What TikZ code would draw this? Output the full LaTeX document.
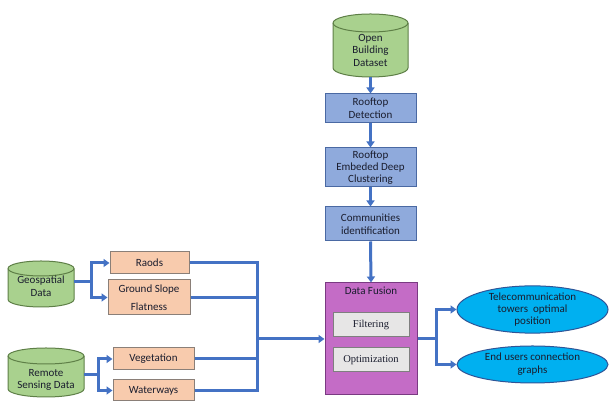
\documentclass[tikz,border=0pt]{standalone}
\usepackage{fontspec}
\setmainfont{Carlito}
\newfontfamily\serifb{Liberation Serif}
\usetikzlibrary{arrows.meta,calc,shapes.geometric}
\definecolor{cylf}{HTML}{A9D18E}
\definecolor{cyld}{HTML}{5E7F47}
\definecolor{bluef}{HTML}{8FAADC}
\definecolor{blued}{HTML}{4A69A3}
\definecolor{peachf}{HTML}{F8CBAD}
\definecolor{peachd}{HTML}{8A7F78}
\definecolor{fusionf}{HTML}{C46CC6}
\definecolor{fusiond}{HTML}{7A3A82}
\definecolor{grayf}{HTML}{E7E6E6}
\definecolor{grayd}{HTML}{7F7F7F}
\definecolor{ellf}{HTML}{00B0F0}
\definecolor{elld}{HTML}{2F5597}
\definecolor{arrowc}{HTML}{4472C4}
\definecolor{textc}{HTML}{1A1D2E}
\newcommand\mycyl[6]{%
  \pgfmathsetmacro\cylcx{(#1+#2)/2}%
  \pgfmathsetmacro\cylrx{(#2-#1)/2}%
  \pgfmathsetmacro\cylcy{(#3+#4)/2}%
  \pgfmathsetmacro\cylw{#2-#1}%
  \pgfmathsetmacro\cylh{#3-#4}%
  \path[fill=cylf,draw=cyld,line width=1pt] (#1,#3-#5) -- (#1,#4+#5)
    arc[start angle=180,end angle=360,x radius=\cylrx,y radius=#5] -- (#2,#3-#5)
    arc[start angle=0,end angle=180,x radius=\cylrx,y radius=#5] -- cycle;
  \draw[draw=cyld,line width=1pt] (#1,#3-#5) arc[start angle=180,end angle=360,x radius=\cylrx,y radius=#5];
  \node[inner sep=0,minimum width=\cylw,minimum height=\cylh] (#6) at (\cylcx,\cylcy) {};
}
\tikzset{
  base/.style={align=center,inner sep=1pt,line width=1pt,font=\fontsize{11}{12.5}\selectfont,text=textc},
  bluebox/.style={base,draw=blued,fill=bluef,minimum width=91},
  peachbox/.style={base,draw=peachd,fill=peachf,minimum width=80},
  graybox/.style={base,draw=grayd,fill=grayf,minimum width=76,minimum height=24,font=\serifb\fontsize{10.5}{12}\selectfont},
  ellbox/.style={base,ellipse,draw=elld,fill=ellf,minimum width=151,inner sep=0pt},
  cyltext/.style={base},
  conn/.style={draw=arrowc,line width=3pt},
  arr/.style={conn,-{Triangle[length=6pt,width=8pt]}},
}
\begin{document}
\begin{tikzpicture}[x=1pt,y=1pt]
\useasboundingbox (0,0) rectangle (611,403);
% cylinders
\mycyl{333}{408}{389}{326}{9}{obd}
\node[cyltext] at (370.5,353) {Open\\Building\\Dataset};
\mycyl{8}{74}{142}{96}{7.5}{geo}
\node[cyltext] at (41,117) {Geospatial\\Data};
\mycyl{8}{84}{55}{6}{8}{rsd}
\node[cyltext] at (46,23) {Remote\\Sensing Data};
% blue chain
\node[bluebox,minimum height=29] (rd) at (370.5,294.5) {Rooftop\\Detection};
\node[bluebox,minimum height=39,font=\fontsize{11}{12}\selectfont] (red) at (370.5,235.5) {Rooftop\\Embeded Deep\\Clustering};
\node[bluebox,minimum height=34] (ci) at (370.5,179) {Communities\\identification};
% data fusion
\node[base,draw=fusiond,fill=fusionf,minimum width=92,minimum height=112] (df) at (371,64) {};
\node[base,anchor=north] (dft) at ([yshift=-3]df.north) {Data Fusion};
\node[graybox] (flt) at (371,78) {Filtering};
\node[graybox] (opt) at (371,43) {Optimization};
% peach boxes
\node[peachbox,minimum width=79,minimum height=22] (rd1) at (149.5,140) {Raods};
\node[peachbox,minimum width=82,minimum height=35,font=\fontsize{11}{18}\selectfont] (gsf) at (149,105.5) {Ground Slope\\Flatness};
\node[peachbox,minimum width=81,minimum height=22] (veg) at (153.5,44) {Vegetation};
\node[peachbox,minimum width=81,minimum height=21] (ww) at (153.5,12.5) {Waterways};
% ellipses
\node[ellbox,minimum height=39,font=\fontsize{11}{12}\selectfont] (tto) at (532.5,93.5) {Telecommunication\\towers\ \ optimal\\position};
\node[ellbox,minimum height=37,font=\fontsize{11}{13}\selectfont] (euc) at (532.5,38.5) {End users connection\\graphs};
% chain arrows
\draw[arr] (obd.south) -- (rd.north);
\draw[arr] (rd.south) -- (red.north);
\draw[arr] (red.south) -- (ci.north);
\draw[arr] (ci.south) -- (df.north);
% geospatial branches
\coordinate (gb) at (91,121);
\draw[conn] (geo.east |- gb) -- (gb);
\draw[arr] (gb) |- (rd1.west);
\draw[arr] (gb) |- (gsf.west);
\coordinate (rb) at (98,28);
\draw[conn] (rsd.east |- rb) -- (rb);
\draw[arr] (rb) |- (veg.west);
\draw[arr] (rb) |- (ww.west);
% merge
\coordinate (mg) at (257,64);
\draw[conn] (rd1.east) -| (mg);
\draw[conn] (gsf.east) -| (mg);
\draw[conn] (veg.east) -| (mg);
\draw[conn] (ww.east) -| (mg);
\draw[arr] (mg) -- (df.west);
% outputs
\coordinate (ob) at (436,64);
\draw[conn] (df.east) -- (ob);
\draw[arr] (ob) |- (tto.west);
\draw[arr] (ob) |- (euc.west);
\end{tikzpicture}
\end{document}
